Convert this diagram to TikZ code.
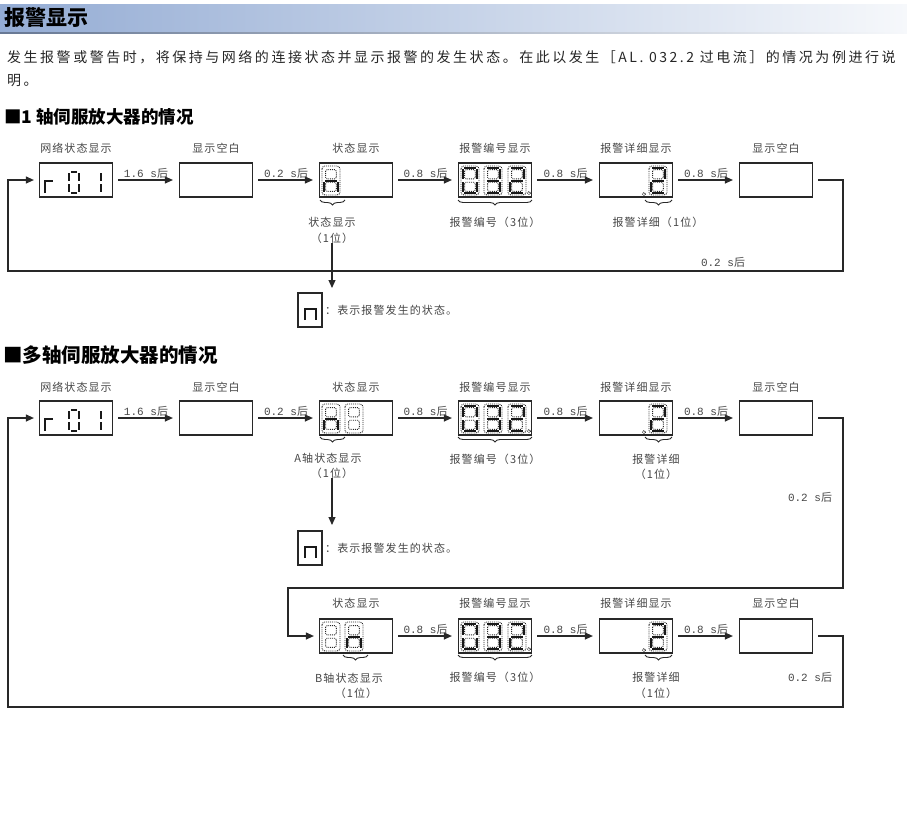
\documentclass[tikz,border=0pt]{standalone}
\usepackage{fontspec}
\setmainfont{Noto Sans CJK SC}
\newfontfamily\bodyfont{Noto Sans CJK SC}[LetterSpace=18]
\newfontfamily\lblfont{Noto Sans CJK SC}[LetterSpace=10]
\newfontfamily\tmono{Liberation Mono}
\usetikzlibrary{arrows.meta,decorations.pathreplacing}
\definecolor{titleL}{RGB}{148,172,212}
\definecolor{titleR}{RGB}{246,248,251}
\definecolor{lblgray}{RGB}{70,70,70}
\definecolor{linegray}{RGB}{40,40,40}
\newcommand\dly[1]{{\tmono #1}后}
% seven segment digit: #1 x, #2 top y, #3..#9 = a b c d e f g (1 = lit)
\newcommand\SegDigit[9]{%
\begin{scope}[shift={(#1,#2)}]
\draw[segoff, rounded corners=3pt] (0,0) rectangle (18,29);
\draw[segoff, rounded corners=1.5pt] (3.6,3.6) rectangle (14.4,12.8);
\draw[segoff, rounded corners=1.5pt] (3.6,16.2) rectangle (14.4,25.4);
\ifnum#3=1 \draw[segon] (3.3,1.8) -- (14.7,1.8);\fi
\ifnum#4=1 \draw[segon] (16.2,3.2) -- (16.2,13);\fi
\ifnum#5=1 \draw[segon] (16.2,16) -- (16.2,25.8);\fi
\ifnum#6=1 \draw[segon] (3.3,27.2) -- (14.7,27.2);\fi
\ifnum#7=1 \draw[segon] (1.8,16) -- (1.8,25.8);\fi
\ifnum#8=1 \draw[segon] (1.8,3.2) -- (1.8,13);\fi
\ifnum#9=1 \draw[segon] (3.3,14.5) -- (14.7,14.5);\fi
\end{scope}}
% network display r 0 1, #1 = vertical offset
\newcommand\NetDisp[1]{%
\begin{scope}[shift={(0,#1)}]
\draw[neton] (45,193) -- (45,181) -- (53,181);
\draw[neton] (71,171.5) -- (77,171.5);
\draw[neton] (71,193) -- (77,193);
\draw[neton] (69,173) -- (69,181);
\draw[neton] (69,184) -- (69,192);
\draw[neton] (79,173) -- (79,181);
\draw[neton] (79,184) -- (79,192);
\draw[neton] (101,173) -- (101,181);
\draw[neton] (101,184) -- (101,192);
\end{scope}}
\newcommand\LegN[1]{%
\begin{scope}[shift={(0,#1)}]
\draw[neton] (305,320) -- (305,309) -- (316,309) -- (316,320);
\end{scope}}
\begin{document}
\begin{tikzpicture}[x=1pt,y=-1pt,
  box/.style={draw=linegray, line width=1.2pt, minimum width=73pt, minimum height=34pt, inner sep=0pt},
  lbl/.style={text=lblgray, font=\lblfont\fontsize{11}{13}\selectfont, inner sep=0pt},
  tl/.style={text=lblgray, font=\lblfont\fontsize{11}{13}\selectfont, inner sep=1pt},
  conn/.style={draw=linegray, line width=1.1pt, -{Triangle[length=8pt,width=7pt]}},
  seg/.style={conn, shorten <=5pt, shorten >=6pt},
  segoff/.style={draw=black!85, densely dotted, line width=0.9pt},
  segon/.style={draw=black!90, line width=2pt},
  neton/.style={draw=black!90, line width=2pt},
  brc/.style={draw=linegray, line width=0.9pt, decorate, decoration={brace, mirror, amplitude=5pt}},
  legbox/.style={draw=linegray, line width=1.2pt, minimum width=24pt, minimum height=34pt, inner sep=0pt}]
\useasboundingbox (0,0) rectangle (907,838);
% title bar
\shade[left color=titleL, right color=titleR] (0,4) rectangle (907,32);
\shade[left color=titleL!70!black, right color=titleR] (0,32) rectangle (907,33.5);
\node[anchor=west, font=\bfseries\fontsize{21}{23}\selectfont, inner sep=0pt] (title) at (4,18) {报警显示};
\node[anchor=west, text=black!85, font=\bodyfont\fontsize{14}{16}\selectfont, inner sep=0pt] (p1) at (7,57) {发生报警或警告时，将保持与网络的连接状态并显示报警的发生状态。在此以发生［AL. 032.2 过电流］的情况为例进行说};
\node[anchor=west, text=black!85, font=\bodyfont\fontsize{14}{16}\selectfont, inner sep=0pt] (p2) at (7,81) {明。};
\node[anchor=west, font=\bfseries\fontsize{17.5}{19}\selectfont, inner sep=0pt] (s1) at (4,117) {■1 轴伺服放大器的情况};
\node[anchor=west, font=\bfseries\fontsize{19.5}{21}\selectfont, inner sep=0pt] (s2) at (3,355) {■多轴伺服放大器的情况};

% ================= row 1 =================
\foreach \n/\x/\t in {a1/76/网络状态显示, a2/216/显示空白, a3/356/状态显示, a4/495/报警编号显示, a5/636/报警详细显示, a6/776/显示空白}{
  \node[box] (\n) at (\x,180) {};
  \node[lbl] (\n t) at (\x,148) {\t};
}
\NetDisp{0}
\SegDigit{322}{166}{0}{0}{1}{0}{1}{0}{1}
\SegDigit{461}{166}{1}{1}{1}{1}{1}{1}{0}
\SegDigit{484}{166}{1}{1}{1}{1}{0}{0}{1}
\SegDigit{508}{166}{1}{1}{0}{1}{1}{0}{1}
\draw[segoff] (529,193) circle (1.6);
\SegDigit{649}{166}{1}{1}{0}{1}{1}{0}{1}
\draw[segoff] (644,194) circle (1.6);
\draw[seg] (a1) -- node[above, tl] {\dly{1.6 s}} (a2);
\draw[seg] (a2) -- node[above, tl] {\dly{0.2 s}} (a3);
\draw[seg] (a3) -- node[above, tl] {\dly{0.8 s}} (a4);
\draw[seg] (a4) -- node[above, tl] {\dly{0.8 s}} (a5);
\draw[seg] (a5) -- node[above, tl] {\dly{0.8 s}} (a6);
\coordinate (r1a) at (843,180);
\coordinate (r1b) at (843,271);
\coordinate (r1c) at (8,271);
\coordinate (r1d) at (8,180);
\draw[conn, shorten <=5pt, shorten >=5pt] (a6) -- (r1a) -- (r1b) -- (r1c) -- (r1d) -- (a1);
\node[tl] (r1t) at (723,262) {\dly{0.2 s}};
\draw[brc] (320,200) -- (345,200);
\draw[brc] (458,200) -- (532,200);
\draw[brc] (645,200) -- (672,200);
\node[lbl] (u3a) at (332,222) {状态显示};
\node[lbl] (u3b) at (332,238) {（1位）};
\node[lbl] (u4) at (495,222) {报警编号（3位）};
\node[lbl] (u5) at (658,222) {报警详细（1位）};
\coordinate (d1) at (332,288);
\draw[conn] (u3b) -- (d1);
\node[legbox] (leg1) at (310,310) {};
\LegN{0}
\node[lbl, anchor=west] (leg1t) at (325,310) {：表示报警发生的状态。};

% ================= row 2 =================
\foreach \n/\x/\t in {b1/76/网络状态显示, b2/216/显示空白, b3/356/状态显示, b4/495/报警编号显示, b5/636/报警详细显示, b6/776/显示空白}{
  \node[box] (\n) at (\x,418) {};
  \node[lbl] (\n t) at (\x,387) {\t};
}
\NetDisp{238}
\SegDigit{322}{404}{0}{0}{1}{0}{1}{0}{1}
\SegDigit{345}{404}{0}{0}{0}{0}{0}{0}{0}
\SegDigit{461}{404}{1}{1}{1}{1}{1}{1}{0}
\SegDigit{484}{404}{1}{1}{1}{1}{0}{0}{1}
\SegDigit{508}{404}{1}{1}{0}{1}{1}{0}{1}
\draw[segoff] (529,431) circle (1.6);
\SegDigit{649}{404}{1}{1}{0}{1}{1}{0}{1}
\draw[segoff] (644,432) circle (1.6);
\draw[seg] (b1) -- node[above, tl] {\dly{1.6 s}} (b2);
\draw[seg] (b2) -- node[above, tl] {\dly{0.2 s}} (b3);
\draw[seg] (b3) -- node[above, tl] {\dly{0.8 s}} (b4);
\draw[seg] (b4) -- node[above, tl] {\dly{0.8 s}} (b5);
\draw[seg] (b5) -- node[above, tl] {\dly{0.8 s}} (b6);
\draw[brc] (320,437) -- (345,437);
\draw[brc] (458,437) -- (532,437);
\draw[brc] (645,437) -- (672,437);
\node[lbl] (v3a) at (328,458) {A轴状态显示};
\node[lbl] (v3b) at (332,473) {（1位）};
\node[lbl] (v4) at (495,459) {报警编号（3位）};
\node[lbl] (v5a) at (656,459) {报警详细};
\node[lbl] (v5b) at (656,474) {（1位）};
\coordinate (d2) at (332,525);
\draw[conn] (v3b) -- (d2);
\node[legbox] (leg2) at (310,548) {};
\LegN{238}
\node[lbl, anchor=west] (leg2t) at (325,548) {：表示报警发生的状态。};
\coordinate (r2a) at (843,418);
\coordinate (r2b) at (843,588);
\coordinate (r2c) at (288,588);
\coordinate (r2d) at (288,636);
\node[tl] (r2t) at (810,497) {\dly{0.2 s}};

% ================= row 3 =================
\foreach \n/\x/\t in {c3/356/状态显示, c4/495/报警编号显示, c5/636/报警详细显示, c6/776/显示空白}{
  \node[box] (\n) at (\x,636) {};
  \node[lbl] (\n t) at (\x,603) {\t};
}
\draw[conn, shorten <=5pt, shorten >=5pt] (b6) -- (r2a) -- (r2b) -- (r2c) -- (r2d) -- (c3);
\SegDigit{322}{622}{0}{0}{0}{0}{0}{0}{0}
\SegDigit{345}{622}{0}{0}{1}{0}{1}{0}{1}
\SegDigit{461}{622}{1}{1}{1}{1}{1}{1}{0}
\SegDigit{484}{622}{1}{1}{1}{1}{0}{0}{1}
\SegDigit{508}{622}{1}{1}{0}{1}{1}{0}{1}
\draw[segoff] (529,649) circle (1.6);
\SegDigit{649}{622}{1}{1}{0}{1}{1}{0}{1}
\draw[segoff] (644,650) circle (1.6);
\draw[seg] (c3) -- node[above, tl] {\dly{0.8 s}} (c4);
\draw[seg] (c4) -- node[above, tl] {\dly{0.8 s}} (c5);
\draw[seg] (c5) -- node[above, tl] {\dly{0.8 s}} (c6);
\draw[brc] (343,655) -- (368,655);
\draw[brc] (458,655) -- (532,655);
\draw[brc] (645,655) -- (672,655);
\node[lbl] (w3a) at (349,678) {B轴状态显示};
\node[lbl] (w3b) at (356,693) {（1位）};
\node[lbl] (w4) at (495,677) {报警编号（3位）};
\node[lbl] (w5a) at (656,677) {报警详细};
\node[lbl] (w5b) at (656,693) {（1位）};
\coordinate (r3a) at (843,636);
\coordinate (r3b) at (843,707);
\coordinate (r3c) at (8,707);
\coordinate (r3d) at (8,418);
\draw[conn, shorten <=5pt, shorten >=5pt] (c6) -- (r3a) -- (r3b) -- (r3c) -- (r3d) -- (b1);
\node[tl] (r3t) at (810,677) {\dly{0.2 s}};
\end{tikzpicture}
\end{document}
